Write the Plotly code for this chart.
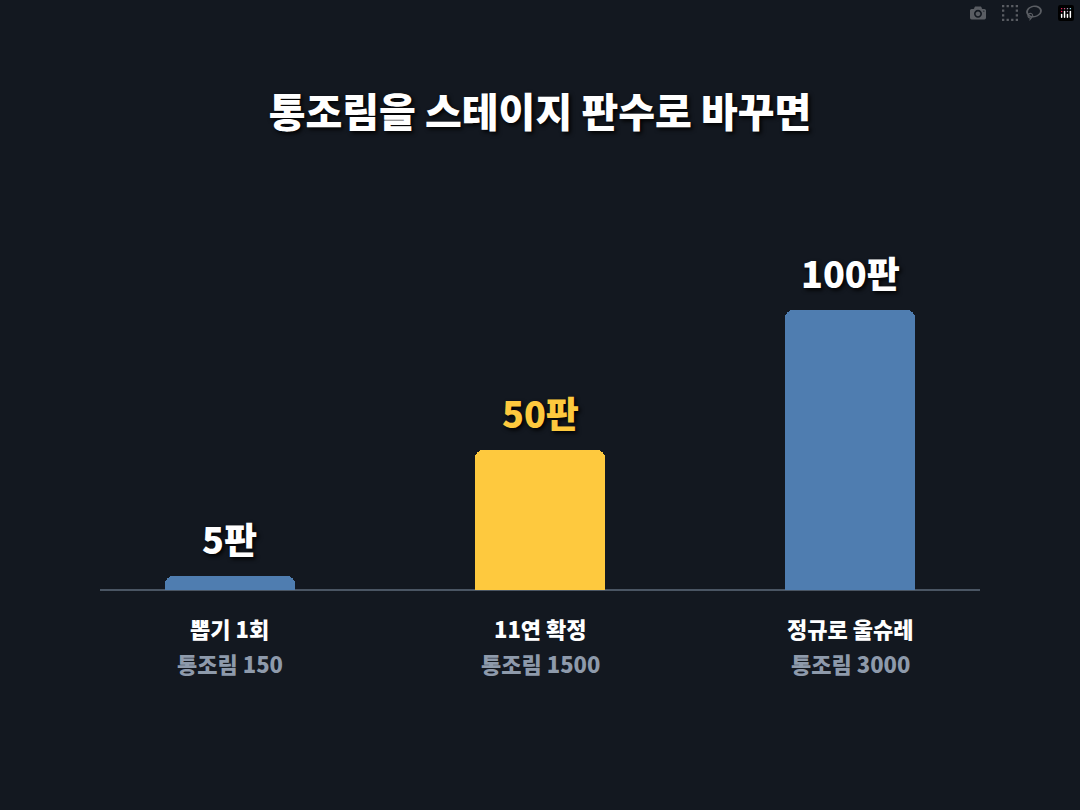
import plotly.graph_objects as go

categories = ["뽑기 1회", "11연 확정", "정규로 울슈레"]
sublabels = ["통조림 150", "통조림 1500", "통조림 3000"]
stages = [5, 50, 100]
value_labels = ["5판", "50판", "100판"]
colors = ["#4f7db0", "#fec93e", "#4f7db0"]
label_colors = ["#ffffff", "#fec93e", "#ffffff"]

F = "Noto Sans CJK KR"
xs = list(range(len(categories)))
fig = go.Figure(go.Bar(
    x=xs, y=stages, width=0.419, marker=dict(color=colors, cornerradius=8, line=dict(width=0)),
    hoverinfo="skip"))

ann = []
for i in xs:
    ann.append(dict(x=i, y=stages[i], text=value_labels[i], showarrow=False, yanchor="bottom", yshift=10,
                    font=dict(family=F, size=36, color=label_colors[i], weight=900, shadow="2px 2px 4px #000")))
    ann.append(dict(x=i, y=0, text=categories[i], showarrow=False, yanchor="middle", yshift=-38,
                    font=dict(family=F, size=22, color="#ffffff", weight=900)))
    ann.append(dict(x=i, y=0, text=sublabels[i], showarrow=False, yanchor="middle", yshift=-73,
                    font=dict(family=F, size=22, color="#8e9aab", weight=900)))

fig.update_layout(
    width=1080, height=810, paper_bgcolor="#131820", plot_bgcolor="#131820",
    margin=dict(l=100, r=100, t=200, b=220),
    title=dict(text="통조림을 스테이지 판수로 바꾸면", x=0.5, xanchor="center", y=0.86, yanchor="middle",
               font=dict(family=F, size=40, color="#ffffff", weight=900, shadow="2px 2px 4px #000")),
    xaxis=dict(range=[-0.419, 2.419], showgrid=False, showticklabels=False, zeroline=False,
               showline=False, fixedrange=True),
    yaxis=dict(range=[0, 139.3], showgrid=False, showticklabels=False, zeroline=True,
               zerolinecolor="#4a5563", zerolinewidth=2, showline=False, fixedrange=True),
    annotations=ann, showlegend=False, bargap=0,
)
fig.write_html("out.html")
with open("out.html", encoding="utf-8") as f:
    html = f.read()
html = html.replace("<body>", '<body style="margin:0;background:#131820">', 1)
with open("out.html", "w", encoding="utf-8") as f:
    f.write(html)
